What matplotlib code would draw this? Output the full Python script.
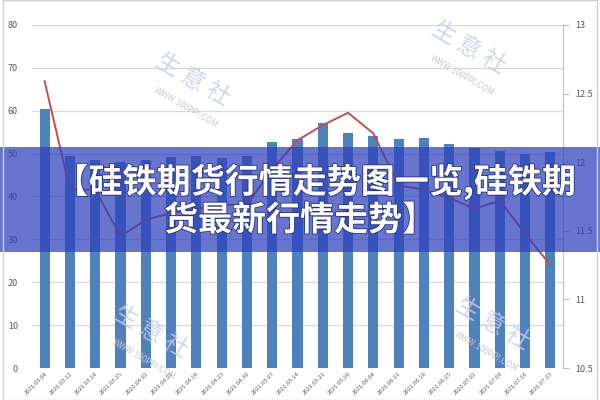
import matplotlib.pyplot as plt
from matplotlib.patches import Rectangle
import matplotlib.patheffects as pe

plt.rcParams['font.family'] = ['Noto Sans CJK SC', 'DejaVu Sans']

# weekly dates, volume-ish bars (left axis) and price line (right axis)
dates = ["2021.03.04", "2021.03.12", "2021.03.19", "2021.03.25", "2021.04.02",
         "2021.04.09", "2021.04.16", "2021.04.23", "2021.04.30", "2021.05.07",
         "2021.05.14", "2021.05.21", "2021.05.28", "2021.06.04", "2021.06.11",
         "2021.06.18", "2021.06.25", "2021.07.02", "2021.07.09", "2021.07.16",
         "2021.07.23"]
bar_values = [60.4, 49.5, 48.5, 48.0, 48.5, 49.2, 49.5, 48.9, 49.5, 52.8,
              53.3, 57.1, 54.8, 54.1, 53.4, 53.6, 52.2, 51.3, 50.7, 49.9, 50.4]
line_values = [12.59, 11.80, 11.80, 11.46, 11.58, 11.63, 11.66, 11.69, 11.69, 11.95,
               12.16, 12.27, 12.36, 12.21, 11.83, 11.80, 11.74, 11.66, 11.72, 11.48, 11.25]
left_ticks = [0, 10, 20, 30, 40, 50, 60, 70, 80]
right_ticks = [10.5, 11, 11.5, 12, 12.5, 13]
title_lines = ["【硅铁期货行情走势图一览,硅铁期", "货最新行情走势】"]

fig = plt.figure(figsize=(6, 4), dpi=100)
ax = fig.add_axes([0.0533, 0.08, 0.885, 0.8575])
x = list(range(len(dates)))

ax.bar(x, bar_values, width=0.4, color='#4f81bd', zorder=2)
ax.set_ylim(0, 80)
ax.set_xlim(-0.5, len(dates) - 0.5)
ax.set_yticks(left_ticks)
ax.yaxis.grid(True, color='#d9d9d9', linewidth=0.9, zorder=0)
ax.tick_params(axis='y', length=0, labelsize=6.5, labelcolor='#595959', pad=10)
ax.set_xticks(x)
ax.set_xticklabels(dates, rotation=45, ha='right', rotation_mode='anchor',
                   fontsize=4.3, color='#595959')
ax.tick_params(axis='x', length=0, pad=2)
for s in ['top', 'left', 'bottom', 'right']:
    ax.spines[s].set_visible(False)

ax2 = ax.twinx()
ax2.plot(x, line_values, color='#c0504d', linewidth=1.4, zorder=3)
ax2.set_ylim(10.5, 13)
ax2.set_yticks(right_ticks)
ax2.set_yticklabels(['10.5', '11', '11.5', '12', '12.5', '13'])
ax2.tick_params(axis='y', length=4, color='#bfbfbf', labelsize=6.5,
                labelcolor='#595959', pad=5)
for s in ['top', 'left', 'bottom']:
    ax2.spines[s].set_visible(False)
ax2.spines['right'].set_color('#bfbfbf')

# faint watermarks
for wx, wy in [(0.32, 0.80), (0.78, 0.88), (0.82, 0.19), (0.25, 0.17)]:
    fig.text(wx, wy, "生 意 社", fontsize=17, color='#c5cde8', alpha=0.8,
             rotation=-30, ha='center', va='center', zorder=0.5)
    fig.text(wx - 0.01, wy - 0.07, "WWW.100PPI.COM", fontsize=6, color='#c8c8c8',
             rotation=-30, ha='center', va='center', zorder=0.5)

# title banner
fig.patches.append(Rectangle((0, 0.37), 1, 0.262, transform=fig.transFigure,
                             facecolor=(0.18, 0.25, 0.74), alpha=0.72,
                             edgecolor='none', zorder=5))
outline = [pe.withStroke(linewidth=1.2, foreground=(0.15, 0.2, 0.5))]
fig.text(0.525, 0.545, title_lines[0], fontsize=24.5, fontweight='bold', color='white',
         ha='center', va='center', zorder=6, path_effects=outline)
fig.text(0.50, 0.45, title_lines[1], fontsize=24.5, fontweight='bold', color='white',
         ha='center', va='center', zorder=6, path_effects=outline)

# outer border
fig.patches.append(Rectangle((0.005, 0.0), 0.99, 0.999, transform=fig.transFigure,
                             facecolor='none', edgecolor='#d0d0d0', linewidth=1,
                             zorder=7))

fig.savefig("out.png", dpi=100)
